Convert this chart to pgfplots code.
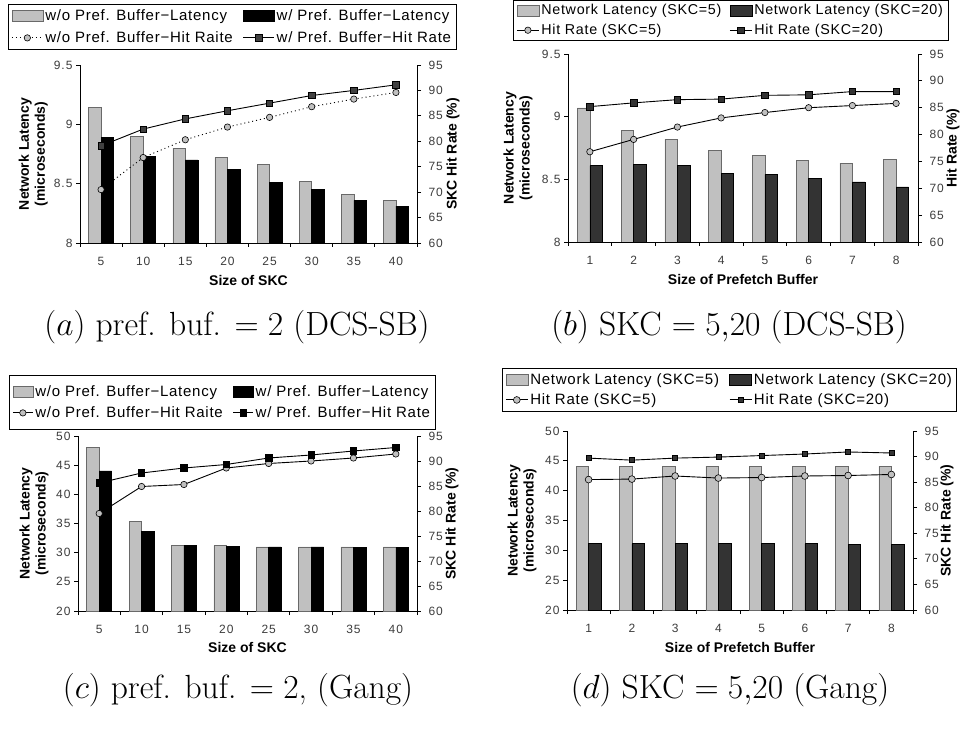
\documentclass[border=0pt]{standalone}
\usepackage{fix-cm}
\usepackage{fontspec}
\usepackage{pgfplots}
\usepackage{pgfplotstable}
\pgfplotsset{compat=1.18}
\newfontfamily\legfam[LetterSpace=5]{Liberation Sans}
\newfontfamily\tickfam[LetterSpace=8]{Liberation Sans}
\newfontfamily\labfam{Liberation Sans}
\newcommand\tickfont{\tickfam\fontsize{12}{14}\selectfont}
\newcommand\labfont{\labfam\bfseries\fontsize{14}{16}\selectfont}
\newcommand\legf{\legfam\fontsize{15}{17}\selectfont}
\newcommand\legfs{\legfam\fontsize{14.3}{16}\selectfont}
\newcommand\capf{\fontsize{33.5}{39}\selectfont}
\definecolor{lgray}{RGB}{192,192,192}
\definecolor{bgray}{RGB}{105,105,105}
\definecolor{dgray}{RGB}{51,51,51}
\definecolor{mgray}{RGB}{64,64,64}
\definecolor{tgray}{RGB}{60,60,60}

\pgfplotstableread{
x g k c s
0 9.14 8.89 70.5 79.1
1 8.90 8.73 76.8 82.4
2 8.80 8.70 80.3 84.4
3 8.72 8.62 82.8 86.0
4 8.66 8.51 84.7 87.5
5 8.52 8.45 86.8 89.0
6 8.41 8.36 88.3 90.0
7 8.36 8.31 89.6 91.1
}\tA
\pgfplotstableread{
x g k c s
0 9.07 8.61 76.8 85.2
1 8.89 8.62 79.1 85.9
2 8.82 8.61 81.4 86.5
3 8.73 8.55 83.1 86.6
4 8.69 8.54 84.1 87.3
5 8.65 8.51 85.0 87.4
6 8.63 8.48 85.4 88.0
7 8.66 8.44 85.8 88.0
}\tB
\pgfplotstableread{
x g k c s
0 48.1 44.0 79.5 85.6
1 35.4 33.7 84.9 87.6
2 31.2 31.2 85.3 88.6
3 31.2 31.1 88.6 89.3
4 31.0 31.0 89.5 90.6
5 31.0 31.0 90.0 91.2
6 31.0 30.9 90.6 92.0
7 31.0 30.9 91.4 92.7
}\tC
\pgfplotstableread{
x g k c s
0 44.1 31.1 85.5 89.7
1 44.1 31.1 85.6 89.3
2 44.1 31.1 86.2 89.7
3 44.1 31.1 85.8 89.9
4 44.1 31.1 85.9 90.2
5 44.1 31.1 86.2 90.5
6 44.1 31.0 86.3 90.9
7 44.1 31.0 86.5 90.7
}\tD

\pgfplotsset{
  barleg/.style={legend image code/.code={\draw[##1] (0pt,-5.5pt) rectangle (#1,5.5pt);}},
  lineleg/.style={legend image code/.code={\draw[mark repeat=2,mark phase=2,##1] plot coordinates {(0pt,0pt) (#1/2,0pt) (#1,0pt)};}},
  base/.style={scale only axis, xmin=-0.5, xmax=7.5,
    axis line style={line width=0.8pt, black},
    tick style={line width=0.8pt, black},
    tick align=outside, major tick length=4pt,
    tick label style={font=\tickfont, text=tgray},
    label style={font=\labfont},
    /pgf/number format/assume math mode=true},
  leftax/.style={base, axis x line*=bottom, axis y line*=left,
    ybar=0pt, bar width=12.5pt,
    xtick={-0.5,0.5,...,7.5}, xticklabels={},
    extra x ticks={0,1,...,7},
    extra x tick style={major tick length=0pt, xticklabel style={yshift=-11pt}},
    ylabel style={align=center, anchor=center},
    xlabel style={anchor=center}},
  rightax/.style={base, axis x line=none, axis y line*=right,
    ymin=60, ymax=95, ytick={60,65,...,95},
    yticklabel style={xshift=4pt},
    ylabel style={anchor=center},
    legend columns=2, legend cell align=left},
  legbox/.style={legend style={draw=black, line width=0.8pt, font=\legf, anchor=north west,
    inner xsep=3pt, inner ysep=3pt, row sep=3pt,
    /tikz/every even column/.append style={column sep=8pt}}},
  lgbar/.style={fill=lgray, draw=bgray, line width=0.6pt},
  kbar/.style={fill=black, draw=black, line width=0.6pt},
  dbar/.style={fill=dgray, draw=black, line width=0.6pt},
}

\begin{document}
\begin{tikzpicture}[x=1pt,y=1pt]
\useasboundingbox (0,0) rectangle (960,728);

% ---------------- (a)
\begin{axis}[leftax, at={(80pt,485pt)}, anchor=south west, width=337pt, height=178pt,
  ymin=8, ymax=9.5, ytick={8,8.5,9,9.5},
  extra x tick labels={5,10,15,20,25,30,35,40},
  ylabel={Network Latency\\(microseconds)},
  ylabel style={at={(axis description cs:-0.139,0.5)}},
  xlabel={Size of SKC}, xlabel style={at={(axis description cs:0.5,-0.208)}}]
\addplot[lgbar] table[x=x,y=g]{\tA};
\addplot[kbar] table[x=x,y=k]{\tA};
\end{axis}
\begin{axis}[rightax, at={(80pt,485pt)}, anchor=south west, width=337pt, height=178pt,
  ylabel={SKC Hit Rate (\%)}, ylabel style={at={(axis description cs:1.107,0.5)}},
  legbox, legend style={at={(axis description cs:-0.2137,1.343)}, row sep=6pt, inner ysep=3pt}]
\addlegendimage{barleg=31pt, lgbar}
\addlegendentry{w/o Pref. Buffer−Latency}
\addlegendimage{barleg=31pt, kbar}
\addlegendentry{w/ Pref. Buffer−Latency}
\addplot[lineleg=31pt, black, line width=0.9pt, dash pattern=on 1pt off 3pt, mark=*, mark size=3.2pt,
  mark options={solid, fill=lgray, draw=black, line width=0.6pt}] table[x=x,y=c]{\tA};
\addlegendentry{w/o Pref. Buffer−Hit Raite}
\addplot[lineleg=31pt, black, line width=0.9pt, mark=square*, mark size=3.2pt,
  mark options={solid, fill=mgray, draw=black, line width=0.6pt}] table[x=x,y=s]{\tA};
\addlegendentry{w/ Pref. Buffer−Hit Rate}
\end{axis}
\node[font=\capf] at (237,401) {$(a)$ pref. buf. $=2$ (DCS-SB)};

% ---------------- (b)
\begin{axis}[leftax, at={(568pt,486pt)}, anchor=south west, width=350pt, height=188pt,
  ymin=8, ymax=9.5, ytick={8,8.5,9,9.5},
  extra x tick labels={1,2,3,4,5,6,7,8},
  ylabel={Network Latency\\(microseconds)},
  ylabel style={at={(axis description cs:-0.143,0.5)}},
  xlabel={Size of Prefetch Buffer}, xlabel style={at={(axis description cs:0.5,-0.197)}}]
\addplot[lgbar] table[x=x,y=g]{\tB};
\addplot[dbar] table[x=x,y=k]{\tB};
\end{axis}
\begin{axis}[rightax, at={(568pt,486pt)}, anchor=south west, width=350pt, height=188pt,
  ylabel={Hit Rate (\%)}, ylabel style={at={(axis description cs:1.10,0.5)}},
  legbox, legend style={at={(axis description cs:-0.157,1.287)}, font=\legfs, row sep=4pt, inner ysep=2pt,
    /tikz/every even column/.append style={column sep=6pt}}]
\addlegendimage{barleg=22pt, lgbar}
\addlegendentry{Network Latency (SKC=5)}
\addlegendimage{barleg=22pt, dbar}
\addlegendentry{Network Latency (SKC=20)}
\addplot[lineleg=22pt, black, line width=0.9pt, mark=*, mark size=3.2pt,
  mark options={solid, fill=lgray, draw=black, line width=0.6pt}] table[x=x,y=c]{\tB};
\addlegendentry{Hit Rate (SKC=5)}
\addplot[lineleg=22pt, black, line width=0.9pt, mark=square*, mark size=3.2pt,
  mark options={solid, fill=dgray, draw=black, line width=0.6pt}] table[x=x,y=s]{\tB};
\addlegendentry{Hit Rate (SKC=20)}
\end{axis}
\node[font=\capf] at (729,401) {$(b)$ SKC $=5{,}20$ (DCS-SB)};

% ---------------- (c)
\begin{axis}[leftax, at={(78pt,117pt)}, anchor=south west, width=339pt, height=175pt,
  ymin=20, ymax=50, ytick={20,25,...,50},
  extra x tick labels={5,10,15,20,25,30,35,40},
  ylabel={Network Latency\\(microseconds)},
  ylabel style={at={(axis description cs:-0.130,0.5)}},
  xlabel={Size of SKC}, xlabel style={at={(axis description cs:0.5,-0.206)}}]
\addplot[lgbar] table[x=x,y=g]{\tC};
\addplot[kbar] table[x=x,y=k]{\tC};
\end{axis}
\begin{axis}[rightax, at={(78pt,117pt)}, anchor=south west, width=339pt, height=175pt,
  ylabel={SKC Hit Rate (\%)}, ylabel style={at={(axis description cs:1.103,0.5)}},
  legbox, legend style={at={(axis description cs:-0.2035,1.349)}, row sep=5pt, inner ysep=8pt}]
\addlegendimage{barleg=20pt, lgbar}
\addlegendentry{w/o Pref. Buffer−Latency}
\addlegendimage{barleg=20pt, kbar}
\addlegendentry{w/ Pref. Buffer−Latency}
\addplot[lineleg=20pt, black, line width=0.9pt, mark=*, mark size=3.2pt,
  mark options={solid, fill=lgray, draw=black, line width=0.6pt}] table[x=x,y=c]{\tC};
\addlegendentry{w/o Pref. Buffer−Hit Raite}
\addplot[lineleg=20pt, black, line width=0.9pt, mark=square*, mark size=3.2pt,
  mark options={solid, fill=black, draw=black, line width=0.6pt}] table[x=x,y=s]{\tC};
\addlegendentry{w/ Pref. Buffer−Hit Rate}
\end{axis}
\node[font=\capf] at (238,38) {$(c)$ pref. buf. $=2$, (Gang)};

% ---------------- (d)
\begin{axis}[leftax, at={(567pt,118pt)}, anchor=south west, width=346pt, height=179pt,
  ymin=20, ymax=50, ytick={20,25,...,50},
  extra x tick labels={1,2,3,4,5,6,7,8},
  ylabel={Network Latency\\(microseconds)},
  ylabel style={at={(axis description cs:-0.130,0.5)}},
  xlabel={Size of Prefetch Buffer}, xlabel style={at={(axis description cs:0.5,-0.207)}}]
\addplot[lgbar] table[x=x,y=g]{\tD};
\addplot[dbar] table[x=x,y=k]{\tD};
\end{axis}
\begin{axis}[rightax, at={(567pt,118pt)}, anchor=south west, width=346pt, height=179pt,
  ylabel={SKC Hit Rate (\%)}, ylabel style={at={(axis description cs:1.098,0.5)}},
  legbox, legend style={at={(axis description cs:-0.188,1.352)}, row sep=4pt, inner ysep=3pt}]
\addlegendimage{barleg=22pt, lgbar}
\addlegendentry{Network Latency (SKC=5)}
\addlegendimage{barleg=22pt, dbar}
\addlegendentry{Network Latency (SKC=20)}
\addplot[lineleg=22pt, black, line width=0.9pt, mark=*, mark size=3.4pt,
  mark options={solid, fill=lgray, draw=black, line width=0.6pt}] table[x=x,y=c]{\tD};
\addlegendentry{Hit Rate (SKC=5)}
\addplot[lineleg=22pt, black, line width=0.9pt, mark=square*, mark size=2.5pt,
  mark options={solid, fill=dgray, draw=black, line width=0.6pt}] table[x=x,y=s]{\tD};
\addlegendentry{Hit Rate (SKC=20)}
\end{axis}
\node[font=\capf] at (730,38) {$(d)$ SKC $=5{,}20$ (Gang)};
\end{tikzpicture}
\end{document}
